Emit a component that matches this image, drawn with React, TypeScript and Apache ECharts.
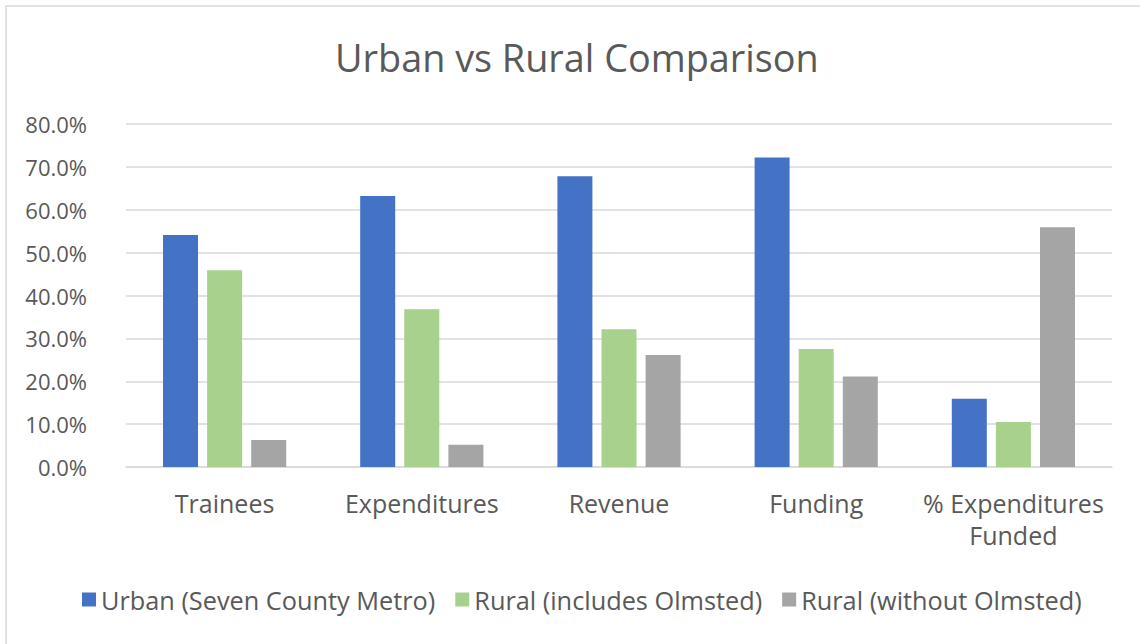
import React, { useEffect, useRef } from "react";
import * as echarts from "echarts";

const categories = ["Trainees", "Expenditures", "Revenue", "Funding", "% Expenditures Funded"];
const urban = [54.1, 63.2, 67.8, 72.2, 15.9];
const ruralIncl = [45.9, 36.8, 32.1, 27.5, 10.5];
const ruralWithout = [6.3, 5.2, 26.1, 21.1, 55.9];
const seriesNames = ["Urban (Seven County Metro)", "Rural (includes Olmsted)", "Rural (without Olmsted)"];
const colors = ["#4472C4", "#A9D18E", "#A5A5A5"];

const FONT = "'Open Sans', sans-serif";
const TEXT = "#595959";

export default function App() {
  const ref = useRef<HTMLDivElement>(null);
  useEffect(() => {
    document.body.style.margin = "0";
    const chart = echarts.init(ref.current!, null, { renderer: "svg" });
    const mk = (i: number, data: number[]) => ({
      name: seriesNames[i],
      type: "bar",
      data,
      barWidth: 35,
      barGap: "26%",
      itemStyle: { color: colors[i] },
    });
    chart.setOption({
      animation: false,
      backgroundColor: "#ffffff",
      textStyle: { fontFamily: FONT },
      title: {
        text: "Urban vs Rural Comparison",
        left: 330,
        top: 30,
        textStyle: { fontFamily: FONT, fontSize: 37.8, fontWeight: "normal", color: TEXT, lineHeight: 44 },
      },
      graphic: [
        {
          type: "rect",
          shape: { x: 6, y: 6, width: 1200, height: 700 },
          style: { fill: "none", stroke: "#D9D9D9", lineWidth: 1.5 },
          silent: true,
        },
      ],
      legend: {
        top: 582,
        left: 77,
        icon: "rect",
        itemWidth: 14,
        itemHeight: 14,
        itemGap: 20,
        textStyle: { fontFamily: FONT, fontSize: 25.3, color: TEXT, lineHeight: 24 },
        data: seriesNames,
      },
      grid: { left: 126, right: 28, top: 124, bottom: 177, containLabel: false },
      xAxis: {
        type: "category",
        data: categories,
        axisLine: { lineStyle: { color: "#D9D9D9", width: 1.5 } },
        axisTick: { show: false },
        axisLabel: {
          fontFamily: FONT,
          fontSize: 25,
          color: TEXT,
          margin: 20,
          lineHeight: 32,
          interval: 0,
          formatter: (v: string) => v.replace("Expenditures Funded", "Expenditures\nFunded"),
        },
      },
      yAxis: {
        type: "value",
        min: 0,
        max: 80,
        interval: 10,
        axisLine: { show: false },
        axisTick: { show: false },
        splitLine: { lineStyle: { color: "#D9D9D9", width: 1.5 } },
        axisLabel: {
          fontFamily: FONT,
          fontSize: 22,
          color: TEXT,
          margin: 39,
          formatter: (v: number) => v.toFixed(1) + "%",
        },
      },
      series: [mk(0, urban), mk(1, ruralIncl), mk(2, ruralWithout)],
    });
    return () => chart.dispose();
  }, []);
  return <div ref={ref} style={{ width: 1140, height: 644 }} />;
}
